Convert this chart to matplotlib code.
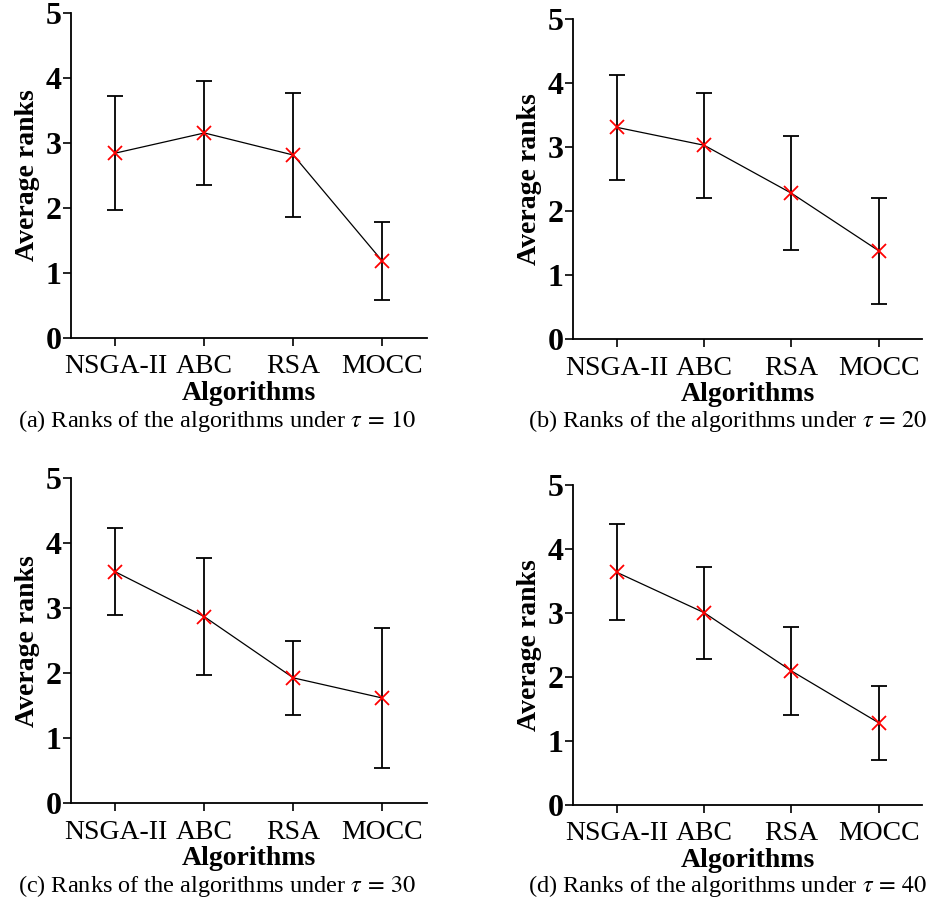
import matplotlib
matplotlib.use("Agg")
import matplotlib.pyplot as plt

plt.rcParams["font.family"] = ["Liberation Serif", "DejaVu Serif"]
plt.rcParams["mathtext.fontset"] = "stix"

algorithms = ["NSGA-II", "ABC", "RSA", "MOCC"]
taus = [10, 20, 30, 40]
panel_tags = ["(a)", "(b)", "(c)", "(d)"]

# mean ranks and error half-widths
ranks_10 = [2.84, 3.15, 2.81, 1.18]
err_10 = [0.88, 0.80, 0.96, 0.60]
ranks_20 = [3.31, 3.03, 2.28, 1.38]
err_20 = [0.82, 0.82, 0.89, 0.83]
ranks_30 = [3.56, 2.87, 1.93, 1.62]
err_30 = [0.67, 0.90, 0.57, 1.07]
ranks_40 = [3.63, 3.00, 2.09, 1.28]
err_40 = [0.75, 0.72, 0.69, 0.58]

all_ranks = [ranks_10, ranks_20, ranks_30, ranks_40]
all_errs = [err_10, err_20, err_30, err_40]

W, H = 933, 905
# axes boxes in pixels: left, top, right, bottom
boxes = [(71, 12.7, 426.7, 337.7),
         (573.3, 19.3, 922.3, 339.0),
         (71, 478.3, 426.7, 803.3),
         (573.3, 24.7 + 460, 922.3, 804.7)]

fig = plt.figure(figsize=(W / 100, H / 100), dpi=100)

for i, (l, t, r, b) in enumerate(boxes):
    ax = fig.add_axes([l / W, 1 - b / H, (r - l) / W, (b - t) / H])
    x = list(range(len(algorithms)))
    ax.errorbar(x, all_ranks[i], yerr=all_errs[i], fmt="none", ecolor="black",
                elinewidth=1.3, capsize=6, capthick=1.3, zorder=2)
    ax.plot(x, all_ranks[i], color="black", linewidth=0.9, zorder=3)
    ax.plot(x, all_ranks[i], linestyle="none", marker="x", color="red",
            markersize=10, markeredgewidth=1.3, zorder=4)
    ax.set_xlim(-0.5, 3.5)
    ax.set_ylim(0, 5)
    ax.set_xticks(x)
    ax.set_xticklabels(algorithms, fontsize=20)
    ax.set_yticks(range(6))
    ax.set_yticklabels([str(v) for v in range(6)], fontsize=23, fontweight="bold")
    for side in ("top", "right"):
        ax.spines[side].set_visible(False)
    for side in ("left", "bottom"):
        ax.spines[side].set_linewidth(1.3)
    ax.tick_params(axis="both", length=6, width=1.2, pad=1)
    ax.tick_params(axis="x", pad=6)
    ax.set_xlabel("Algorithms", fontsize=20, fontweight="bold", labelpad=1)
    ax.set_ylabel("Average ranks", fontsize=20, fontweight="bold", labelpad=4)

    cx = (l + r) / 2 - 32 if i % 2 == 0 else (l + r) / 2 - 20
    cy = 421 if i < 2 else 886
    fig.text(cx / W, 1 - cy / H,
             f"{panel_tags[i]} Ranks of the algorithms under $\\tau\\,=\\,{taus[i]}$",
             ha="center", va="center", fontsize=17.5)

fig.savefig("out.png", dpi=100)
